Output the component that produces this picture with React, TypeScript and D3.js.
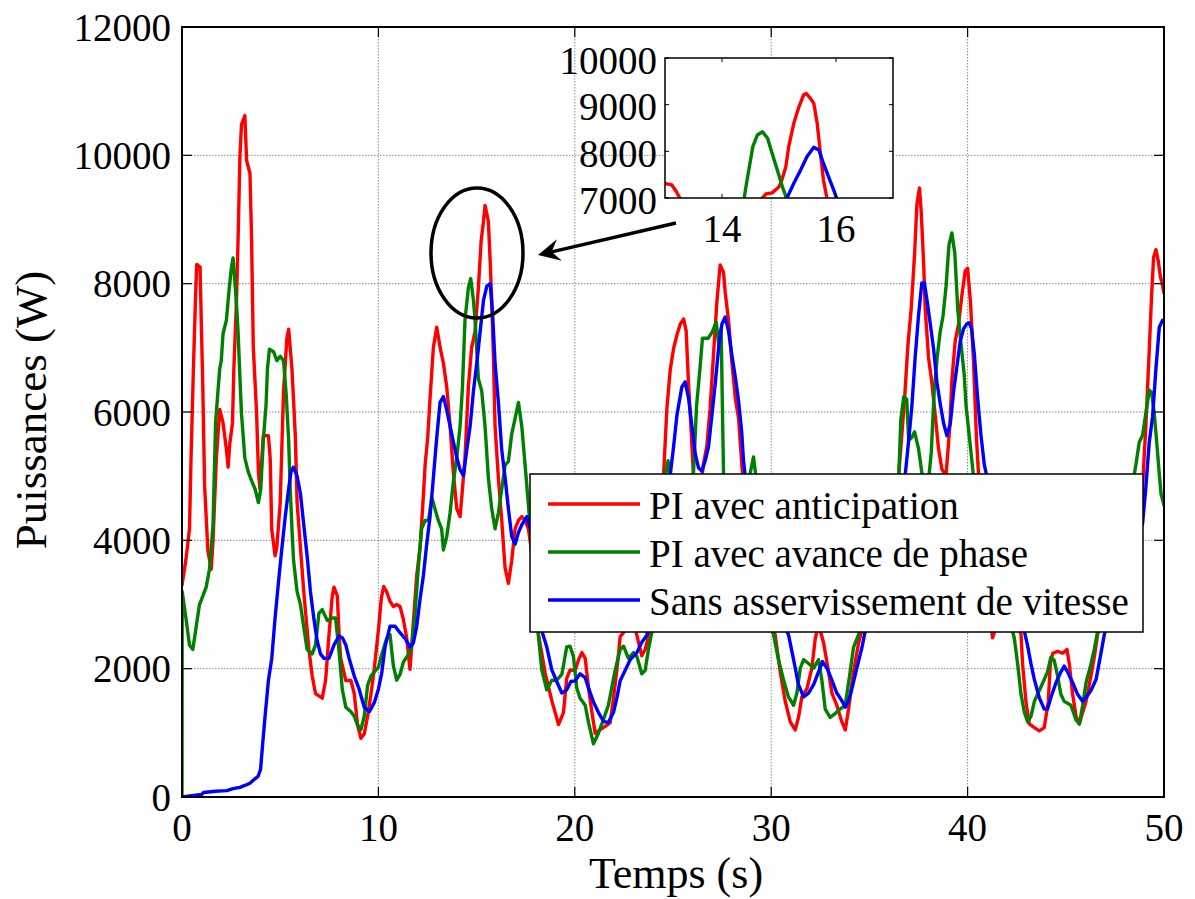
import React from "react";
import * as d3 from "d3";

// ---------- data ----------
const xTicks = [0, 10, 20, 30, 40, 50];
const yTicks = [0, 2000, 4000, 6000, 8000, 10000, 12000];
const insetXTicks = [14, 16];
const insetYTicks = [7000, 8000, 9000, 10000];

const seriesNames = [
  "PI avec anticipation",
  "PI avec avance de phase",
  "Sans asservissement de vitesse",
];

const redData: [number, number][] = [[0,3300],[0.2,3700],[0.38,4170],[0.46,5280],[0.58,6670],[0.68,7700],[0.75,8300],[0.92,8260],[0.98,7430],[1.06,6390],[1.15,4860],[1.32,3830],[1.49,3550],[1.58,4000],[1.75,5280],[1.92,6040],[2.09,5830],[2.26,5420],[2.35,5140],[2.43,5500],[2.57,5830],[2.64,6670],[2.77,7700],[2.86,8750],[2.95,9990],[3.03,10480],[3.2,10620],[3.29,9920],[3.46,9720],[3.54,8750],[3.63,7010],[3.8,5970],[3.89,5070],[3.97,4800],[4.14,5630],[4.4,5630],[4.49,5280],[4.57,4170],[4.74,3760],[4.83,3900],[5.0,4590],[5.17,6320],[5.34,7150],[5.43,7290],[5.6,6670],[5.77,5630],[5.86,4590],[6.03,3890],[6.2,3200],[6.46,2300],[6.63,1885],[6.8,1610],[7.14,1540],[7.31,1815],[7.48,2510],[7.65,3130],[7.74,3270],[7.91,3130],[8.0,2510],[8.08,2160],[8.34,1815],[8.6,1815],[8.77,1610],[8.94,1120],[9.11,915],[9.28,984],[9.45,1260],[9.62,1600],[9.79,2000],[10.0,2600],[10.15,3100],[10.27,3280],[10.42,3200],[10.59,3050],[10.76,2970],[10.93,3000],[11.1,2970],[11.27,2770],[11.44,2480],[11.61,1990],[11.78,2720],[11.95,3450],[12.12,3890],[12.29,4690],[12.38,5180],[12.51,5600],[12.63,6210],[12.8,7010],[12.97,7320],[13.14,7010],[13.31,6760],[13.48,6390],[13.65,5780],[13.82,5040],[13.99,4490],[14.16,4370],[14.28,4800],[14.41,5290],[14.58,6390],[14.75,7010],[14.92,7250],[15.09,7930],[15.23,8660],[15.35,8970],[15.43,9220],[15.6,8970],[15.69,8360],[15.77,7740],[15.86,6820],[15.94,5780],[16.11,4970],[16.28,4310],[16.45,3570],[16.62,3330],[16.79,3690],[16.96,4180],[17.13,4310],[17.3,4370],[17.47,4310],[17.64,4180],[17.9,3600],[18.15,2530],[18.49,1930],[18.83,1500],[19.17,1130],[19.42,1310],[19.59,1850],[19.76,1980],[20.02,1970],[20.19,2140],[20.36,2250],[20.53,2160],[20.7,1700],[20.87,1320],[21.04,990],[21.29,1050],[21.55,1100],[21.8,1160],[21.97,1540],[22.14,1970],[22.31,2500],[22.48,2560],[22.73,2700],[22.99,2750],[23.16,2520],[23.41,2200],[23.58,2300],[23.84,2600],[24.1,3600],[24.3,4400],[24.52,5020],[24.69,6060],[24.86,6660],[25.03,6990],[25.2,7200],[25.37,7370],[25.54,7450],[25.67,7260],[25.79,6440],[25.91,5790],[26.04,5020],[26.2,4500],[26.4,4800],[26.55,5190],[26.72,5460],[26.89,6060],[27.06,6880],[27.23,7700],[27.4,8290],[27.57,8180],[27.66,7860],[27.83,7420],[28.0,6770],[28.17,6220],[28.34,5900],[28.5,5190],[28.8,4200],[29.2,3500],[29.6,3000],[29.9,2800],[30.2,2530],[30.46,1950],[30.71,1500],[30.97,1170],[31.22,1045],[31.39,1240],[31.56,1560],[31.82,1690],[32.07,2010],[32.24,2460],[32.38,2660],[32.5,2590],[32.67,2400],[32.92,1950],[33.09,1620],[33.34,1430],[33.6,1170],[33.77,1045],[33.94,1370],[34.19,1950],[34.45,2400],[34.7,2700],[35.0,3000],[35.5,3300],[36.0,3800],[36.4,4600],[36.53,5170],[36.79,6200],[36.96,7040],[37.13,7620],[37.3,8460],[37.42,9240],[37.55,9490],[37.64,9110],[37.76,8330],[37.84,7620],[38.01,6850],[38.18,6460],[38.35,5950],[38.52,5430],[38.69,5110],[38.9,5000],[39.1,5800],[39.2,6500],[39.37,7110],[39.54,7370],[39.71,7820],[39.88,8200],[40.0,8240],[40.15,7700],[40.3,6800],[40.45,5600],[40.6,4800],[40.9,3500],[41.27,2480],[41.5,2700],[42.0,3100],[42.4,2900],[42.72,2530],[42.8,2070],[42.97,1490],[43.14,1140],[43.4,1080],[43.65,1030],[43.9,1080],[44.11,1490],[44.21,2070],[44.33,2240],[44.58,2270],[44.84,2240],[45.06,2300],[45.18,2070],[45.35,1600],[45.52,1260],[45.69,1140],[45.86,1320],[46.03,1490],[46.28,1890],[46.45,2180],[46.62,2530],[47.0,3000],[47.5,3400],[48.0,3700],[48.5,4000],[48.83,4370],[49.08,5820],[49.25,6970],[49.37,7830],[49.47,8410],[49.59,8530],[49.71,8350],[49.81,8120],[49.9,8010],[50.0,7850]];

const greenData: [number, number][] = [[0,0],[0.01,3200],[0.2,2790],[0.38,2370],[0.55,2300],[0.72,2650],[0.89,3000],[1.06,3130],[1.23,3270],[1.4,3550],[1.58,4240],[1.71,5830],[1.83,6320],[1.92,6670],[2.0,6800],[2.09,7220],[2.26,7430],[2.4,7910],[2.52,8260],[2.6,8400],[2.69,8050],[2.77,7700],[2.86,7220],[2.95,6530],[3.03,5970],[3.2,5280],[3.37,5070],[3.54,4930],[3.72,4800],[3.89,4590],[4.01,4800],[4.14,5560],[4.28,6110],[4.35,6670],[4.45,6980],[4.66,6940],[4.83,6800],[5.0,6870],[5.17,6800],[5.31,6250],[5.43,5560],[5.51,4800],[5.6,4170],[5.68,3690],[5.86,3200],[6.03,3000],[6.2,2650],[6.37,2300],[6.63,2230],[6.8,2370],[6.97,2860],[7.14,2920],[7.4,2750],[7.65,2790],[7.82,2790],[7.99,2300],[8.16,1680],[8.34,1400],[8.6,1330],[8.77,1260],[8.94,1120],[9.11,1050],[9.28,1260],[9.45,1740],[9.62,1885],[9.79,1950],[10.0,2020],[10.17,2220],[10.42,2470],[10.59,2530],[10.76,2050],[10.93,1820],[11.1,1910],[11.27,2100],[11.52,2220],[11.69,2340],[11.86,2830],[12.03,3570],[12.2,4180],[12.38,4310],[12.55,4310],[12.72,4670],[12.88,4490],[13.05,4310],[13.22,4180],[13.31,3850],[13.48,4060],[13.65,4430],[13.82,4920],[13.99,5290],[14.16,5780],[14.28,6390],[14.41,7440],[14.58,7930],[14.7,8080],[14.84,7740],[14.92,7440],[15.09,6520],[15.26,6330],[15.43,5780],[15.6,4970],[15.77,4490],[15.94,4180],[16.11,4430],[16.28,4800],[16.45,5170],[16.62,5230],[16.79,5660],[16.96,5900],[17.13,6150],[17.3,5780],[17.47,5170],[17.64,4550],[17.9,3500],[18.15,2500],[18.32,1980],[18.57,1670],[18.83,1820],[19.08,1820],[19.34,1910],[19.59,2340],[19.76,2350],[19.93,2190],[20.1,1700],[20.27,1540],[20.53,1430],[20.7,1160],[20.95,830],[21.2,990],[21.46,1210],[21.71,1430],[21.88,1700],[22.05,1970],[22.31,2300],[22.48,2350],[22.73,2160],[22.99,2250],[23.16,2190],[23.41,1920],[23.58,1970],[23.75,2300],[23.92,2570],[24.2,3500],[24.45,4500],[24.6,5000],[24.75,5240],[24.9,4900],[25.2,4200],[25.6,4000],[25.9,4500],[26.05,5100],[26.2,6100],[26.38,6700],[26.5,7150],[26.8,7150],[27.0,7250],[27.2,7400],[27.35,7000],[27.45,7300],[27.52,6000],[27.58,4900],[27.8,4000],[28.2,3800],[28.6,4300],[28.9,5000],[29.1,5300],[29.3,4800],[29.6,3500],[29.9,2800],[30.12,2530],[30.37,2140],[30.63,1820],[30.88,1560],[31.14,1430],[31.31,1620],[31.48,2010],[31.65,2140],[31.9,2080],[32.16,2010],[32.41,2140],[32.58,1820],[32.75,1370],[33.0,1240],[33.26,1300],[33.51,1370],[33.77,1430],[34.02,1950],[34.19,2330],[34.45,2530],[34.8,2900],[35.2,2800],[35.47,2590],[35.8,3200],[36.2,4200],[36.5,5040],[36.6,5880],[36.75,6240],[36.9,6200],[37.0,5560],[37.15,5600],[37.3,5690],[37.5,5430],[37.65,5100],[37.8,4800],[38.0,4900],[38.15,5370],[38.3,6330],[38.45,6850],[38.6,7240],[38.75,7500],[38.9,7950],[39.05,8600],[39.2,8790],[39.35,8470],[39.5,7600],[39.65,7100],[39.83,6570],[39.92,6100],[40.08,5640],[40.3,5000],[40.8,4000],[41.3,3200],[41.8,2900],[42.2,2700],[42.38,2470],[42.55,2070],[42.72,1600],[42.89,1320],[43.06,1170],[43.23,1260],[43.4,1490],[43.65,1660],[43.9,1830],[44.07,1950],[44.24,2180],[44.41,2130],[44.58,1890],[44.75,1600],[44.92,1490],[45.09,1460],[45.26,1430],[45.52,1200],[45.69,1140],[45.86,1430],[46.03,1780],[46.28,2070],[46.45,2300],[46.62,2580],[47.3,3300],[47.8,4000],[48.3,4700],[48.57,5180],[48.74,5530],[48.91,5640],[49.08,5990],[49.25,6340],[49.37,6300],[49.5,5990],[49.63,5530],[49.75,5070],[49.85,4720],[50.0,4550]];

const blueData: [number, number][] = [[0,0],[0.5,20],[1.0,40],[1.1,70],[1.7,90],[2.28,100],[2.6,130],[2.95,150],[3.2,180],[3.46,215],[3.7,280],[3.87,320],[4.0,430],[4.1,800],[4.23,1260],[4.4,1815],[4.57,2160],[4.74,2790],[4.91,3340],[5.09,3890],[5.26,4380],[5.43,4800],[5.55,5070],[5.68,5140],[5.86,5000],[6.03,4730],[6.2,4240],[6.37,3760],[6.54,3200],[6.71,2790],[6.88,2440],[7.05,2230],[7.23,2160],[7.48,2160],[7.74,2370],[8.0,2510],[8.17,2480],[8.34,2370],[8.51,2160],[8.77,1885],[9.02,1680],[9.28,1400],[9.54,1330],[9.79,1470],[10.0,1680],[10.17,1930],[10.34,2340],[10.59,2660],[10.85,2660],[11.1,2560],[11.36,2470],[11.61,2340],[11.78,2400],[11.95,2660],[12.12,3080],[12.29,3450],[12.46,3940],[12.63,4370],[12.8,4980],[12.97,5600],[13.14,6150],[13.31,6240],[13.48,6030],[13.65,5780],[13.82,5530],[13.99,5290],[14.16,5100],[14.33,5010],[14.5,5410],[14.67,5780],[14.84,6330],[15.01,6760],[15.18,7250],[15.35,7740],[15.52,7960],[15.69,8000],[15.81,7560],[15.94,6760],[16.11,6150],[16.28,5410],[16.45,4980],[16.62,4490],[16.79,4060],[16.96,3940],[17.13,4120],[17.3,4240],[17.56,4370],[17.8,4100],[18.0,3200],[18.32,2590],[18.57,2340],[18.83,1980],[19.08,1800],[19.34,1620],[19.59,1670],[19.8,1800],[20.02,1810],[20.27,1920],[20.53,1860],[20.7,1700],[20.95,1480],[21.2,1320],[21.46,1180],[21.71,1160],[21.97,1320],[22.14,1540],[22.31,1810],[22.56,1970],[22.82,2140],[23.16,2250],[23.41,2410],[23.67,2520],[24.0,3200],[24.4,4200],[24.7,4800],[24.86,5020],[25.03,5460],[25.2,5950],[25.45,6390],[25.62,6470],[25.79,6220],[25.96,5790],[26.13,5350],[26.3,5130],[26.47,5080],[26.64,5240],[26.81,5460],[26.98,5950],[27.15,6440],[27.32,6990],[27.49,7370],[27.66,7480],[27.83,7260],[28.0,6880],[28.17,6550],[28.34,6170],[28.5,5680],[28.59,5240],[28.9,4400],[29.3,3800],[29.7,3300],[30.2,3000],[30.6,2700],[30.88,2530],[31.14,2140],[31.39,1750],[31.65,1560],[31.9,1620],[32.16,1750],[32.41,1950],[32.61,2110],[32.84,2010],[33.09,1820],[33.34,1620],[33.6,1500],[33.77,1400],[33.94,1500],[34.11,1690],[34.36,2010],[34.62,2330],[34.79,2590],[35.3,3000],[35.8,3500],[36.3,4200],[36.66,4700],[36.83,5040],[37.0,5560],[37.16,6080],[37.33,6850],[37.5,7500],[37.67,8010],[37.8,8010],[37.93,7750],[38.1,7370],[38.27,6980],[38.44,6460],[38.6,6140],[38.78,5820],[38.95,5630],[39.12,5820],[39.29,6330],[39.46,6720],[39.63,7110],[39.8,7300],[39.95,7370],[40.08,7390],[40.2,7300],[40.34,6910],[40.51,6220],[40.68,5640],[40.85,5180],[41.05,4900],[41.5,4000],[42.0,3300],[42.5,2900],[42.89,2580],[43.06,2350],[43.23,2070],[43.4,1830],[43.65,1550],[43.9,1370],[44.07,1370],[44.24,1550],[44.5,1780],[44.75,1950],[44.92,2040],[45.09,1950],[45.35,1780],[45.6,1600],[45.86,1490],[46.03,1550],[46.28,1660],[46.54,1830],[46.79,2240],[46.96,2530],[47.5,3200],[48.0,3700],[48.5,4000],[48.91,4260],[49.08,4840],[49.25,5530],[49.42,5930],[49.59,6680],[49.76,7320],[49.93,7430],[50.0,7430]];

// zoomed (inset) traces around t = 13..17 s
const insetRed: [number, number][] = [[12.97,7320],[13.12,7280],[13.2,7135],[13.26,7000],[13.48,6390],[13.99,4490],[14.41,5290],[14.6,6850],[14.71,7000],[14.77,7085],[14.88,7110],[15.0,7240],[15.05,7385],[15.12,7670],[15.17,8100],[15.26,8600],[15.35,8955],[15.43,9205],[15.48,9240],[15.55,9135],[15.61,9030],[15.67,8600],[15.72,8030],[15.78,7385],[15.84,7000],[15.94,5780]];
const insetGreen: [number, number][] = [[14.16,5780],[14.3,6400],[14.39,7000],[14.42,7240],[14.48,7670],[14.54,8100],[14.62,8350],[14.71,8420],[14.8,8280],[14.88,7955],[14.97,7600],[15.06,7240],[15.13,7000],[15.26,6330]];
const insetBlue: [number, number][] = [[14.84,6330],[15.01,6760],[15.14,7000],[15.26,7315],[15.38,7600],[15.49,7885],[15.61,8085],[15.7,8030],[15.78,7740],[15.87,7455],[15.96,7170],[16.01,7000],[16.11,6150]];

const colors = ["#ff0000", "#008000", "#0000ff"];

// ---------- layout ----------
const W = 1195, H = 899;
const PL = 182, PR = 1164, PT = 27, PB = 797;
const IL = 665, IR = 893, IT = 58, IB = 198;
const FONT = "Liberation Serif, Times New Roman, Times, DejaVu Serif, serif";

export default function App() {
  const x = d3.scaleLinear().domain([0, 50]).range([PL, PR]);
  const y = d3.scaleLinear().domain([0, 12000]).range([PB, PT]);
  const ix = d3.scaleLinear().domain([13, 17]).range([IL, IR]);
  const iy = d3.scaleLinear().domain([7000, 10000]).range([IB, IT]);

  const line = d3.line<[number, number]>().x(d => x(d[0])).y(d => y(d[1]));
  const iline = d3.line<[number, number]>().x(d => ix(d[0])).y(d => iy(d[1]));

  const series = [redData, greenData, blueData];
  const insetSeries = [insetRed, insetGreen, insetBlue];

  const tick = 10;
  const ts = { fontFamily: FONT, fill: "#000" } as React.CSSProperties;

  // arrow annotation
  const ax0 = 676, ay0 = 223, ax1 = 538, ay1 = 255;
  const dx = ax1 - ax0, dy = ay1 - ay0;
  const len = Math.hypot(dx, dy);
  const ux = dx / len, uy = dy / len;
  const nx = -uy, ny = ux;
  const headL = 22, headW = 11, notch = 14;
  const head = [
    [ax1, ay1],
    [ax1 - ux * headL + nx * headW, ay1 - uy * headL + ny * headW],
    [ax1 - ux * notch, ay1 - uy * notch],
    [ax1 - ux * headL - nx * headW, ay1 - uy * headL - ny * headW],
  ];

  const legX = 530, legY = 474, legW = 613, legH = 158;
  const legRows = [504, 552, 600];

  return (
    <svg width={W} height={H} style={{ position: "absolute", left: 0, top: 0, background: "#fff", fontFamily: FONT }}>
      <defs>
        <clipPath id="plotClip">
          <rect x={PL} y={PT} width={PR - PL} height={PB - PT} />
        </clipPath>
        <clipPath id="insetClip">
          <rect x={IL} y={IT} width={IR - IL} height={IB - IT} />
        </clipPath>
      </defs>
      <rect x={0} y={0} width={W} height={H} fill="#fff" />

      {/* grid */}
      {xTicks.map(t => (
        <line key={"gx" + t} x1={x(t)} x2={x(t)} y1={PT} y2={PB} stroke="#8c8c8c" strokeWidth={1} strokeDasharray="1.5 1.5" />
      ))}
      {yTicks.map(t => (
        <line key={"gy" + t} x1={PL} x2={PR} y1={y(t)} y2={y(t)} stroke="#8c8c8c" strokeWidth={1} strokeDasharray="1.5 1.5" />
      ))}

      {/* series */}
      <g clipPath="url(#plotClip)">
        {series.map((s, i) => (
          <path key={"s" + i} d={line(s) || ""} fill="none" stroke={colors[i]} strokeWidth={3.4} strokeLinejoin="round" strokeLinecap="round" />
        ))}
      </g>

      {/* ticks */}
      {xTicks.map(t => (
        <g key={"tx" + t}>
          <line x1={x(t)} x2={x(t)} y1={PB} y2={PB - tick} stroke="#000" strokeWidth={1.2} />
          <line x1={x(t)} x2={x(t)} y1={PT} y2={PT + tick} stroke="#000" strokeWidth={1.2} />
          <text style={ts} x={x(t)} y={827} fontSize={39} textAnchor="middle" dominantBaseline="central">{t}</text>
        </g>
      ))}
      {yTicks.map(t => (
        <g key={"ty" + t}>
          <line x1={PL} x2={PL + tick} y1={y(t)} y2={y(t)} stroke="#000" strokeWidth={1.2} />
          <line x1={PR} x2={PR - tick} y1={y(t)} y2={y(t)} stroke="#000" strokeWidth={1.2} />
          <text style={ts} x={171} y={y(t)} fontSize={39} textAnchor="end" dominantBaseline="central">{t}</text>
        </g>
      ))}

      {/* frame */}
      <rect x={PL} y={PT} width={PR - PL} height={PB - PT} fill="none" stroke="#000" strokeWidth={2} />

      {/* axis labels */}
      <text style={ts} x={676} y={888} fontSize={44} textAnchor="middle">Temps (s)</text>
      <text style={ts} transform="translate(31,410) rotate(-90)" fontSize={45} textAnchor="middle" dominantBaseline="central">Puissances (W)</text>

      {/* ellipse + arrow */}
      <ellipse cx={477} cy={253} rx={46} ry={65} fill="none" stroke="#000" strokeWidth={3.5} />
      <line x1={ax0} y1={ay0} x2={ax1 - ux * notch} y2={ay1 - uy * notch} stroke="#000" strokeWidth={3.5} />
      <polygon points={head.map(p => p.join(",")).join(" ")} fill="#000" />

      {/* inset */}
      <rect x={IL} y={IT} width={IR - IL} height={IB - IT} fill="#fff" />
      <g clipPath="url(#insetClip)">
        {insetSeries.map((s, i) => (
          <path key={"is" + i} d={iline(s) || ""} fill="none" stroke={colors[i]} strokeWidth={3.4} strokeLinejoin="round" strokeLinecap="round" />
        ))}
      </g>
      {insetXTicks.map(t => (
        <g key={"itx" + t}>
          <line x1={ix(t)} x2={ix(t)} y1={IB} y2={IB - 4} stroke="#000" strokeWidth={1} />
          <line x1={ix(t)} x2={ix(t)} y1={IT} y2={IT + 4} stroke="#000" strokeWidth={1} />
          <text style={ts} x={ix(t)} y={228} fontSize={39} textAnchor="middle" dominantBaseline="central">{t}</text>
        </g>
      ))}
      {insetYTicks.map(t => (
        <g key={"ity" + t}>
          <line x1={IL} x2={IL + 4} y1={iy(t)} y2={iy(t)} stroke="#000" strokeWidth={1} />
          <line x1={IR} x2={IR - 4} y1={iy(t)} y2={iy(t)} stroke="#000" strokeWidth={1} />
          <text style={ts} x={657} y={iy(t) + 2} fontSize={39} textAnchor="end" dominantBaseline="central">{t}</text>
        </g>
      ))}
      <rect x={IL} y={IT} width={IR - IL} height={IB - IT} fill="none" stroke="#000" strokeWidth={1.5} />

      {/* legend */}
      <rect x={legX} y={legY} width={legW} height={legH} fill="#fff" stroke="#000" strokeWidth={1.5} />
      {seriesNames.map((n, i) => (
        <g key={"lg" + i}>
          <line x1={548} x2={640} y1={legRows[i]} y2={legRows[i]} stroke={colors[i]} strokeWidth={3.5} />
          <text style={ts} x={649} y={legRows[i] + 1} fontSize={39} dominantBaseline="central">{n}</text>
        </g>
      ))}
    </svg>
  );
}
